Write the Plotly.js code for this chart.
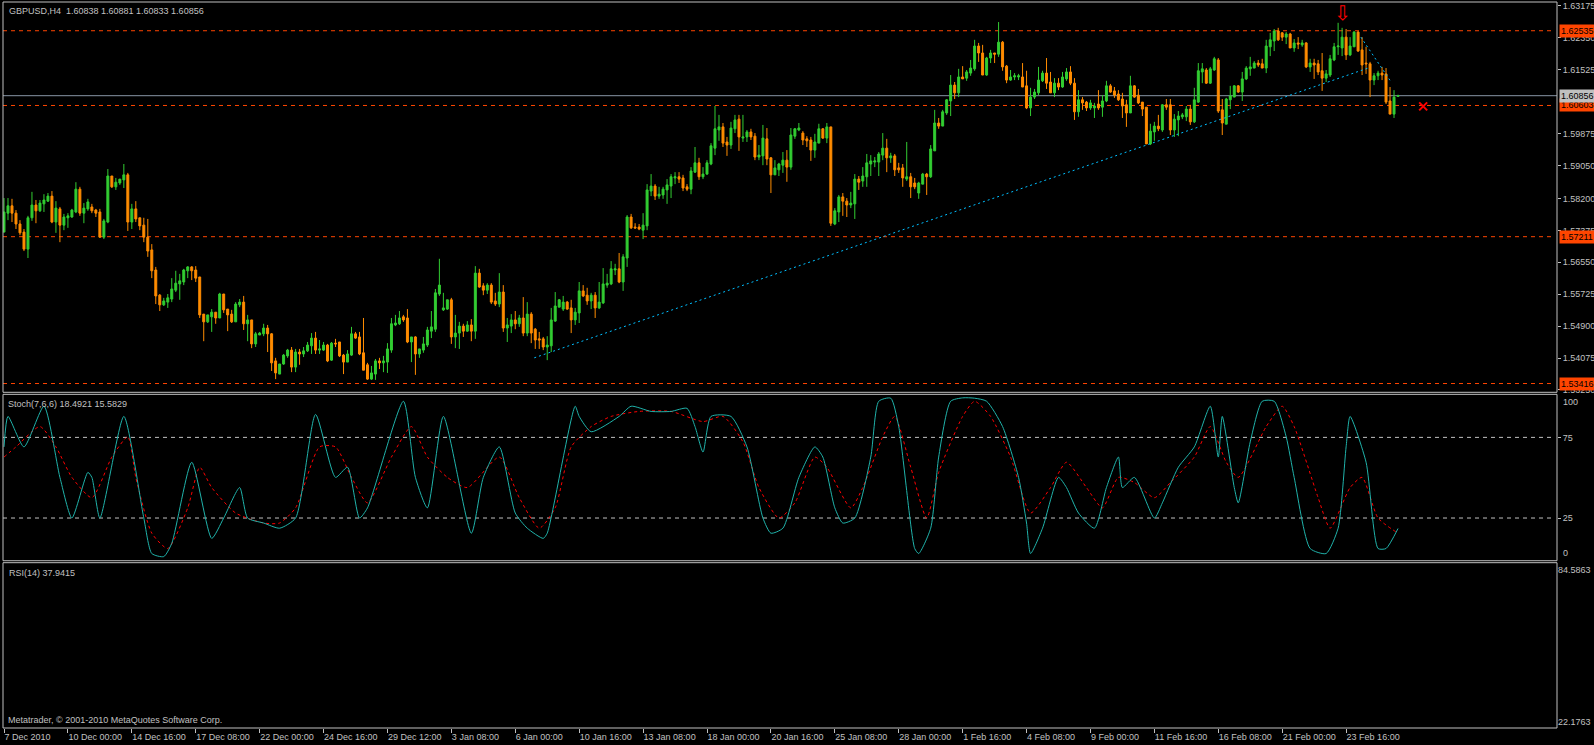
<!DOCTYPE html>
<html><head><meta charset="utf-8">
<script src="https://cdn.plot.ly/plotly-3.0.1.min.js"></script>
<style>html,body{margin:0;padding:0;background:#000;overflow:hidden}#chart{width:1594px;height:745px}</style>
</head><body><div id="chart"></div>
<script>
// ---------- DATA ----------
const symbolTitle = "GBPUSD,H4  1.60838 1.60881 1.60833 1.60856";
const stochTitle = "Stoch(7,6,6) 18.4921 15.5829";
const rsiTitle = "RSI(14) 37.9415";
const copyright = "Metatrader, \u00A9 2001-2010 MetaQuotes Software Corp.";

const xTickBars = [0,16,32,48,64,80,96,112,128,144,160,176,192,208,224,240,256,272,288,304,320,336];
const xTickLabels = ["7 Dec 2010","10 Dec 00:00","14 Dec 16:00","17 Dec 08:00","22 Dec 00:00","24 Dec 16:00","29 Dec 12:00","3 Jan 08:00","6 Jan 00:00","10 Jan 16:00","13 Jan 08:00","18 Jan 00:00","20 Jan 16:00","25 Jan 08:00","28 Jan 00:00","1 Feb 16:00","4 Feb 08:00","9 Feb 00:00","11 Feb 16:00","16 Feb 08:00","21 Feb 00:00","23 Feb 16:00"];
// visible price scale labels (1.60700 is hidden behind the price tags in the original)
const priceTicks = [1.63175,1.62350,1.61525,1.59875,1.59050,1.58200,1.57375,1.56550,1.55725,1.54900,1.54075,1.53250];

const open = [
1.5733,1.5782,1.5801,1.5782,1.5754,1.5733,1.5689,1.5770,1.5803,1.5788,
1.5806,1.5813,1.5826,1.5759,1.5793,1.5751,1.5770,1.5772,1.5785,1.5844,
1.5782,1.5793,1.5798,1.5790,1.5785,1.5720,1.5759,1.5878,1.5850,1.5860,
1.5868,1.5881,1.5759,1.5793,1.5770,1.5751,1.5720,1.5687,1.5635,1.5570,
1.5545,1.5552,1.5560,1.5583,1.5599,1.5604,1.5633,1.5643,1.5635,1.5617,
1.5521,1.5501,1.5514,1.5526,1.5511,1.5573,1.5534,1.5521,1.5501,1.5545,
1.5552,1.5496,1.5506,1.5444,1.5467,1.5470,1.5485,1.5470,1.5400,1.5366,
1.5392,1.5413,1.5428,1.5384,1.5423,1.5418,1.5426,1.5439,1.5459,1.5428,
1.5428,1.5441,1.5402,1.5446,1.5449,1.5415,1.5397,1.5415,1.5470,1.5462,
1.5421,1.5390,1.5353,1.5366,1.5400,1.5395,1.5397,1.5428,1.5493,1.5496,
1.5514,1.5511,1.5449,1.5462,1.5418,1.5428,1.5441,1.5477,1.5482,1.5573,
1.5532,1.5534,1.5558,1.5462,1.5472,1.5490,1.5477,1.5493,1.5477,1.5627,
1.5594,1.5583,1.5596,1.5555,1.5547,1.5578,1.5485,1.5490,1.5506,1.5496,
1.5511,1.5472,1.5521,1.5482,1.5457,1.5457,1.5436,1.5439,1.5503,1.5539,
1.5534,1.5552,1.5537,1.5506,1.5524,1.5581,1.5570,1.5555,1.5570,1.5537,
1.5550,1.5596,1.5599,1.5635,1.5638,1.5604,1.5666,1.5772,1.5746,1.5746,
1.5738,1.5749,1.5839,1.5852,1.5826,1.5829,1.5842,1.5852,1.5873,1.5876,
1.5873,1.5850,1.5844,1.5888,1.5912,1.5876,1.5883,1.5909,1.5950,1.5997,
1.6005,1.5966,1.5958,1.6000,1.6025,1.5976,1.5979,1.5992,1.5981,1.5927,
1.5930,1.5974,1.5925,1.5881,1.5894,1.5906,1.5919,1.5901,1.5981,1.5997,
1.5989,1.5974,1.5971,1.5945,1.5963,1.6000,1.5976,1.6005,1.5754,1.5785,
1.5824,1.5813,1.5803,1.5806,1.5870,1.5865,1.5876,1.5909,1.5914,1.5914,
1.5932,1.5950,1.5925,1.5930,1.5899,1.5899,1.5870,1.5876,1.5860,1.5834,
1.5857,1.5883,1.5876,1.5943,1.6015,1.6007,1.6041,1.6072,1.6113,1.6093,
1.6134,1.6131,1.6144,1.6155,1.6214,1.6196,1.6139,1.6183,1.6196,1.6193,
1.6224,1.6162,1.6126,1.6134,1.6134,1.6134,1.6111,1.6054,1.6082,1.6093,
1.6124,1.6144,1.6121,1.6093,1.6118,1.6108,1.6129,1.6147,1.6118,1.6044,
1.6075,1.6069,1.6054,1.6054,1.6064,1.6056,1.6072,1.6111,1.6098,1.6090,
1.6077,1.6062,1.6041,1.6111,1.6087,1.6069,1.6056,1.5961,1.5992,1.6007,
1.5997,1.6062,1.6062,1.5997,1.6023,1.6031,1.6031,1.6051,1.6018,1.6069,
1.6147,1.6152,1.6118,1.6152,1.6178,1.6049,1.6012,1.6075,1.6082,1.6111,
1.6095,1.6129,1.6155,1.6157,1.6170,1.6168,1.6157,1.6212,1.6227,1.6253,
1.6248,1.6237,1.6245,1.6209,1.6222,1.6217,1.6222,1.6160,1.6170,1.6168,
1.6150,1.6131,1.6139,1.6178,1.6212,1.6209,1.6237,1.6191,1.6212,1.6250,
1.6204,1.6170,1.6168,1.6126,1.6137,1.6144,1.6142,1.6072,1.6038,1.60838];

const high = [
1.5821,1.5821,1.5819,1.5790,1.5764,1.5741,1.5775,1.5837,1.5816,1.5816,
1.5831,1.5834,1.5839,1.5813,1.5798,1.5780,1.5782,1.5793,1.5862,1.5850,
1.5808,1.5819,1.5806,1.5793,1.5793,1.5767,1.5896,1.5878,1.5873,1.5870,
1.5909,1.5886,1.5806,1.5813,1.5770,1.5770,1.5767,1.5702,1.5643,1.5573,
1.5563,1.5573,1.5614,1.5633,1.5625,1.5638,1.5645,1.5645,1.5645,1.5617,
1.5521,1.5519,1.5534,1.5526,1.5576,1.5573,1.5534,1.5532,1.5552,1.5560,
1.5568,1.5519,1.5506,1.5475,1.5475,1.5496,1.5493,1.5472,1.5408,1.5392,
1.5418,1.5431,1.5436,1.5431,1.5431,1.5436,1.5449,1.5472,1.5475,1.5454,
1.5449,1.5444,1.5449,1.5457,1.5449,1.5418,1.5428,1.5488,1.5475,1.5475,
1.5511,1.5395,1.5387,1.5405,1.5408,1.5413,1.5446,1.5511,1.5519,1.5529,
1.5519,1.5534,1.5462,1.5464,1.5431,1.5462,1.5488,1.5529,1.5586,1.5664,
1.5576,1.5558,1.5563,1.5519,1.5501,1.5496,1.5503,1.5508,1.5645,1.5638,
1.5601,1.5601,1.5601,1.5576,1.5627,1.5596,1.5511,1.5521,1.5529,1.5519,
1.5565,1.5552,1.5526,1.5485,1.5475,1.5462,1.5464,1.5537,1.5578,1.5560,
1.5568,1.5555,1.5558,1.5537,1.5604,1.5596,1.5589,1.5576,1.5578,1.5604,
1.5640,1.5625,1.5658,1.5651,1.5679,1.5676,1.5777,1.5780,1.5756,1.5754,
1.5782,1.5857,1.5883,1.5857,1.5850,1.5850,1.5870,1.5883,1.5888,1.5888,
1.5881,1.5857,1.5901,1.5953,1.5925,1.5901,1.5919,1.5963,1.6059,1.6036,
1.6015,1.5979,1.6018,1.6036,1.6036,1.6036,1.5997,1.6000,1.5989,1.5958,
1.6010,1.6002,1.5927,1.5919,1.5912,1.5940,1.5945,1.6002,1.6002,1.6015,
1.5994,1.5981,1.5979,1.5987,1.6013,1.6002,1.6015,1.6005,1.5795,1.5829,
1.5834,1.5821,1.5837,1.5883,1.5878,1.5901,1.5935,1.5932,1.5927,1.5940,
1.5989,1.5974,1.5938,1.5935,1.5912,1.5909,1.5966,1.5886,1.5873,1.5863,
1.5886,1.5886,1.5958,1.6049,1.6028,1.6049,1.6077,1.6139,1.6121,1.6155,
1.6162,1.6152,1.6178,1.6230,1.6222,1.6217,1.6186,1.6204,1.6196,1.6276,
1.6227,1.6165,1.6152,1.6144,1.6142,1.6170,1.6150,1.6106,1.6103,1.6160,
1.6150,1.6183,1.6147,1.6131,1.6131,1.6147,1.6157,1.6162,1.6131,1.6100,
1.6082,1.6072,1.6075,1.6067,1.6100,1.6087,1.6124,1.6116,1.6108,1.6100,
1.6093,1.6075,1.6137,1.6113,1.6103,1.6069,1.6056,1.6013,1.6018,1.6036,
1.6064,1.6077,1.6077,1.6038,1.6046,1.6041,1.6059,1.6062,1.6106,1.6170,
1.6170,1.6157,1.6160,1.6186,1.6183,1.6077,1.6080,1.6111,1.6113,1.6113,
1.6147,1.6162,1.6186,1.6175,1.6178,1.6181,1.6230,1.6248,1.6258,1.6261,
1.6250,1.6250,1.6248,1.6232,1.6237,1.6230,1.6224,1.6181,1.6181,1.6178,
1.6196,1.6152,1.6191,1.6222,1.6274,1.6261,1.6258,1.6237,1.6253,1.6253,
1.6237,1.6212,1.6173,1.6144,1.6150,1.6160,1.6157,1.6108,1.6100,1.60881];

const low = [
1.5733,1.5764,1.5759,1.5741,1.5725,1.5684,1.5666,1.5762,1.5756,1.5785,
1.5785,1.5811,1.5756,1.5731,1.5707,1.5738,1.5744,1.5770,1.5782,1.5775,
1.5756,1.5788,1.5782,1.5772,1.5718,1.5715,1.5756,1.5847,1.5842,1.5855,
1.5847,1.5736,1.5741,1.5759,1.5738,1.5707,1.5669,1.5614,1.5547,1.5529,
1.5542,1.5537,1.5552,1.5578,1.5558,1.5596,1.5614,1.5609,1.5604,1.5511,
1.5451,1.5498,1.5475,1.5496,1.5511,1.5524,1.5477,1.5498,1.5501,1.5539,
1.5480,1.5451,1.5433,1.5436,1.5467,1.5464,1.5423,1.5374,1.5353,1.5366,
1.5390,1.5408,1.5371,1.5371,1.5390,1.5410,1.5423,1.5418,1.5418,1.5418,
1.5426,1.5397,1.5400,1.5436,1.5410,1.5366,1.5397,1.5413,1.5457,1.5415,
1.5376,1.5351,1.5351,1.5351,1.5379,1.5371,1.5369,1.5421,1.5490,1.5493,
1.5501,1.5446,1.5397,1.5364,1.5408,1.5421,1.5436,1.5459,1.5475,1.5568,
1.5529,1.5532,1.5444,1.5433,1.5431,1.5462,1.5475,1.5451,1.5457,1.5589,
1.5570,1.5573,1.5547,1.5542,1.5539,1.5475,1.5449,1.5472,1.5482,1.5488,
1.5464,1.5464,1.5446,1.5431,1.5431,1.5428,1.5402,1.5423,1.5501,1.5539,
1.5529,1.5532,1.5472,1.5493,1.5498,1.5565,1.5545,1.5534,1.5511,1.5534,
1.5547,1.5589,1.5596,1.5622,1.5601,1.5581,1.5643,1.5741,1.5741,1.5738,
1.5715,1.5738,1.5826,1.5816,1.5819,1.5819,1.5806,1.5821,1.5857,1.5860,
1.5839,1.5839,1.5831,1.5886,1.5868,1.5870,1.5881,1.5906,1.5932,1.5969,
1.5953,1.5930,1.5948,1.5989,1.5943,1.5966,1.5966,1.5971,1.5919,1.5919,
1.5906,1.5906,1.5834,1.5881,1.5878,1.5886,1.5863,1.5894,1.5974,1.5994,
1.5958,1.5953,1.5917,1.5925,1.5963,1.5974,1.5963,1.5749,1.5751,1.5759,
1.5775,1.5772,1.5795,1.5767,1.5842,1.5850,1.5850,1.5878,1.5901,1.5878,
1.5919,1.5888,1.5912,1.5878,1.5886,1.5850,1.5865,1.5821,1.5844,1.5819,
1.5857,1.5829,1.5873,1.5943,1.6000,1.6007,1.6036,1.6033,1.6077,1.6082,
1.6129,1.6124,1.6137,1.6150,1.6173,1.6139,1.6137,1.6170,1.6170,1.6186,
1.6150,1.6118,1.6124,1.6126,1.6126,1.6108,1.6051,1.6033,1.6077,1.6087,
1.6121,1.6103,1.6093,1.6082,1.6100,1.6106,1.6124,1.6113,1.6023,1.6031,
1.6049,1.6046,1.6049,1.6028,1.6049,1.6031,1.6069,1.6093,1.6080,1.6072,
1.6028,1.6005,1.6041,1.6080,1.6064,1.6033,1.5961,1.5958,1.5969,1.5994,
1.5992,1.6049,1.5984,1.5979,1.5981,1.6025,1.6020,1.6010,1.6015,1.6067,
1.6118,1.6116,1.6116,1.6150,1.6041,1.5984,1.6012,1.6051,1.6082,1.6093,
1.6072,1.6126,1.6137,1.6157,1.6160,1.6157,1.6144,1.6188,1.6201,1.6227,
1.6227,1.6219,1.6209,1.6199,1.6206,1.6212,1.6157,1.6147,1.6129,1.6139,
1.6098,1.6121,1.6134,1.6175,1.6191,1.6188,1.6178,1.6188,1.6212,1.6199,
1.6139,1.6142,1.6082,1.6113,1.6126,1.6126,1.6064,1.6038,1.6028,1.60833];

const close = [
1.5785,1.5801,1.5782,1.5754,1.5731,1.5689,1.5770,1.5803,1.5788,1.5808,
1.5816,1.5826,1.5759,1.5795,1.5751,1.5772,1.5775,1.5790,1.5844,1.5782,
1.5795,1.5811,1.5788,1.5782,1.5720,1.5762,1.5878,1.5850,1.5862,1.5870,
1.5881,1.5759,1.5793,1.5767,1.5749,1.5720,1.5684,1.5633,1.5568,1.5545,
1.5555,1.5563,1.5586,1.5601,1.5607,1.5635,1.5643,1.5633,1.5614,1.5519,
1.5501,1.5519,1.5526,1.5511,1.5573,1.5532,1.5519,1.5501,1.5547,1.5552,
1.5496,1.5506,1.5444,1.5470,1.5472,1.5485,1.5470,1.5395,1.5369,1.5392,
1.5415,1.5428,1.5384,1.5423,1.5418,1.5426,1.5441,1.5459,1.5428,1.5431,
1.5441,1.5400,1.5446,1.5444,1.5413,1.5397,1.5418,1.5470,1.5459,1.5418,
1.5376,1.5353,1.5369,1.5400,1.5395,1.5400,1.5431,1.5496,1.5498,1.5511,
1.5506,1.5449,1.5462,1.5418,1.5431,1.5444,1.5480,1.5488,1.5576,1.5596,
1.5537,1.5558,1.5462,1.5472,1.5490,1.5477,1.5493,1.5477,1.5627,1.5591,
1.5583,1.5596,1.5552,1.5547,1.5578,1.5485,1.5493,1.5506,1.5496,1.5511,
1.5472,1.5521,1.5472,1.5454,1.5454,1.5436,1.5441,1.5506,1.5542,1.5558,
1.5552,1.5534,1.5506,1.5526,1.5581,1.5568,1.5555,1.5570,1.5537,1.5552,
1.5599,1.5601,1.5638,1.5638,1.5604,1.5669,1.5772,1.5744,1.5744,1.5741,
1.5751,1.5842,1.5852,1.5826,1.5831,1.5844,1.5855,1.5876,1.5876,1.5870,
1.5847,1.5844,1.5891,1.5912,1.5876,1.5883,1.5912,1.5956,1.6000,1.6005,
1.5963,1.5958,1.6002,1.6023,1.5979,1.5979,1.5992,1.5979,1.5927,1.5932,
1.5976,1.5922,1.5881,1.5899,1.5909,1.5919,1.5901,1.5984,1.6000,1.6002,
1.5971,1.5969,1.5945,1.5966,1.6000,1.5976,1.6005,1.5756,1.5788,1.5824,
1.5813,1.5803,1.5808,1.5870,1.5862,1.5878,1.5912,1.5917,1.5917,1.5935,
1.5950,1.5925,1.5930,1.5894,1.5894,1.5873,1.5876,1.5850,1.5850,1.5860,
1.5883,1.5876,1.5948,1.6015,1.6007,1.6044,1.6075,1.6113,1.6093,1.6134,
1.6129,1.6147,1.6157,1.6214,1.6196,1.6139,1.6183,1.6196,1.6193,1.6224,
1.6160,1.6126,1.6134,1.6137,1.6137,1.6108,1.6054,1.6082,1.6095,1.6126,
1.6144,1.6118,1.6093,1.6118,1.6108,1.6134,1.6147,1.6118,1.6044,1.6075,
1.6067,1.6054,1.6067,1.6059,1.6054,1.6072,1.6111,1.6095,1.6087,1.6075,
1.6059,1.6041,1.6111,1.6082,1.6067,1.6051,1.5961,1.5994,1.6007,1.6000,
1.6062,1.6056,1.5997,1.6025,1.6033,1.6036,1.6051,1.6018,1.6075,1.6150,
1.6155,1.6118,1.6155,1.6181,1.6046,1.6015,1.6077,1.6085,1.6111,1.6095,
1.6129,1.6157,1.6160,1.6170,1.6165,1.6157,1.6214,1.6230,1.6253,1.6230,
1.6237,1.6245,1.6209,1.6222,1.6219,1.6222,1.6160,1.6170,1.6165,1.6147,
1.6131,1.6142,1.6181,1.6212,1.6214,1.6237,1.6191,1.6214,1.6250,1.6201,
1.6165,1.6168,1.6126,1.6137,1.6144,1.6139,1.6069,1.6038,1.6082,1.60856];

// Stochastic (7,6,6): main (%K) and signal (%D), read at bar positions
const stochMainBar = [0,1,5,10,14,17,21,22,24,30,35,37,40,42,47,52,55,59,61,65,69,73,78,83,86,89,91,100,103,106,110,117,120,124,128,131,135,136,143,144,147,154,157,162,167,171,173,175,177,182,186,190,192,195,199,203,205,208,210,213,217,219,222,224,228,229,232,234,237,240,243,246,250,254,256,257,260,264,266,269,273,276,279,280,283,288,290,294,298,302,304,305,308,309,312,315,318,321,323,327,331,334,336,337,341,344,346,349];
const stochMainVal = [69.1,88.0,69.1,94.3,50.2,25.0,53.3,50.2,25.0,88.0,25.0,3.0,1.1,9.3,59.6,12.4,25.0,43.9,25.0,21.9,18.7,25.0,89.2,50.2,56.5,25.0,31.3,97.4,50.2,31.3,88.0,15.6,50.2,69.1,28.1,18.7,12.4,15.6,94.3,88.0,78.5,88.0,94.3,91.1,91.1,93.0,81.7,65.9,88.0,88.0,69.1,25.0,15.6,18.7,50.2,69.1,62.8,31.3,21.9,25.0,62.8,97.4,99.3,81.7,6.1,3.0,18.7,62.8,97.4,99.5,99.3,97.4,81.7,50.2,21.9,3.0,18.7,50.2,43.9,28.1,18.7,43.9,62.8,43.9,50.2,25.0,34.4,56.5,69.1,94.3,62.8,88.0,43.9,34.4,72.2,97.4,97.4,75.4,50.2,6.1,3.0,18.7,69.1,88.0,59.6,6.1,6.1,18.4921];
const stochSigBar = [0,3,9,13,17,22,27,31,33,37,41,46,49,52,58,65,69,73,79,83,87,91,97,102,106,111,116,124,129,134,138,142,147,152,159,167,175,180,185,189,194,198,203,206,212,215,220,223,227,231,234,240,243,247,252,257,262,266,271,275,279,283,288,292,298,302,306,309,316,320,323,329,332,337,340,344,349];
const stochSigVal = [62.8,69.1,81.7,69.1,50.2,37.6,62.8,75.4,50.2,15.6,6.1,31.3,56.5,43.9,28.1,21.9,21.9,31.3,69.1,69.1,50.2,34.4,62.8,81.7,62.8,50.2,43.9,62.8,37.6,18.7,31.3,69.1,81.7,88.0,91.1,91.1,84.8,88.0,72.2,43.9,25.0,34.4,62.8,56.5,31.3,43.9,75.4,88.0,56.5,25.0,53.3,88.0,97.4,88.0,62.8,28.1,43.9,59.6,43.9,31.3,50.2,47.0,37.6,47.0,62.8,81.7,59.6,50.2,81.7,94.3,81.7,37.6,18.7,43.9,50.2,25.0,15.5829];
const stochLevels = [75, 25];

// Chart objects
const dashedLevels = [1.62535, 1.60603, 1.57211, 1.53416];
const dashedLabels = ["1.62535", "1.60603", "1.57211", "1.53416"];
const bidPrice = 1.60856;
const trendBars = [132.75, 341.5];
const trendPrices = [1.5408, 1.6157];
const trend2Bars = [339.7, 347.2];
const trend2Prices = [1.6237, 1.6122];
const arrowBar = 335, arrowPrice = 1.6300;
const stopBar = 355.3, stopPrice = 1.6058;
const rsiTicks = [84.5863, 22.1763];

// ---------- CHART ----------
const barIdx = open.map((_, i) => i);
const FONT = 'Liberation Sans, Arial, sans-serif';
const GREY = '#c0c0c0';

const traces = [
  {type:'candlestick', x:barIdx, open:open, high:high, low:low, close:close, xaxis:'x', yaxis:'y',
   increasing:{line:{color:'#32CD32', width:1}, fillcolor:'#32CD32'},
   decreasing:{line:{color:'#FF8C00', width:1}, fillcolor:'#FF8C00'},
   whiskerwidth:0, hoverinfo:'none', showlegend:false},
  {type:'scatter', mode:'lines', x:trendBars, y:trendPrices, xaxis:'x', yaxis:'y',
   line:{color:'#00BFFF', width:1, dash:'2px,3px'}, hoverinfo:'none', showlegend:false},
  {type:'scatter', mode:'lines', x:trend2Bars, y:trend2Prices, xaxis:'x', yaxis:'y',
   line:{color:'#00BFFF', width:1, dash:'2px,3px'}, hoverinfo:'none', showlegend:false},
  {type:'scatter', mode:'markers', x:[stopBar], y:[stopPrice], xaxis:'x', yaxis:'y',
   marker:{symbol:'x-thin', size:8, line:{color:'#FF0000', width:2}}, hoverinfo:'none', showlegend:false},
  {type:'scatter', mode:'lines', x:stochSigBar, y:stochSigVal, xaxis:'x', yaxis:'y2',
   line:{color:'#FF0000', width:1, dash:'dot', shape:'spline', smoothing:0.6}, hoverinfo:'none', showlegend:false},
  {type:'scatter', mode:'lines', x:stochMainBar, y:stochMainVal, xaxis:'x', yaxis:'y2',
   line:{color:'#20B2AA', width:1, shape:'spline', smoothing:0.6}, hoverinfo:'none', showlegend:false},
  // RSI window (its line is not shown in the original); empty trace keeps the panel axis alive
  {type:'scatter', mode:'lines', x:[], y:[], xaxis:'x', yaxis:'y3', hoverinfo:'none', showlegend:false}
];

const shapes = [];
dashedLevels.forEach(v => shapes.push({type:'line', xref:'paper', x0:0, x1:0.998, yref:'y', y0:v, y1:v,
  line:{color:'#FF4500', width:1, dash:'4px,4px'}, layer:'below'}));
shapes.push({type:'line', xref:'paper', x0:0, x1:1, yref:'y', y0:bidPrice, y1:bidPrice,
  line:{color:'#8896A6', width:1}, layer:'below'});
stochLevels.forEach(v => shapes.push({type:'line', xref:'paper', x0:0, x1:0.998, yref:'y2', y0:v, y1:v,
  line:{color:GREY, width:1, dash:'4px,4px'}, layer:'below'}));
// panel borders
[[0.4624,1],[0.2304,0.4596],[0,0.2277]].forEach(d => shapes.push({type:'rect', xref:'paper', yref:'paper',
  x0:0, x1:1, y0:d[0], y1:d[1], line:{color:GREY, width:1}, fillcolor:'rgba(0,0,0,0)'}));

const annotations = [];
const txt = (t, x, y) => ({text:t, xref:'paper', yref:'paper', x:x, y:y, xanchor:'left', yanchor:'middle',
  showarrow:false, font:{family:FONT, size:9, color:GREY}});
annotations.push(txt(symbolTitle, 0.0026, 0.9876));
annotations.push(txt(stochTitle, 0.0019, 0.4463));
annotations.push(txt(rsiTitle, 0.0026, 0.2135));
annotations.push(txt(copyright, 0.0019, 0.0110));
annotations.push({text:'100', xref:'paper', yref:'paper', x:1, y:0.4494, xanchor:'left', yanchor:'middle', xshift:4, showarrow:false, font:{family:FONT, size:9, color:GREY}});
annotations.push({text:'0', xref:'paper', yref:'paper', x:1, y:0.2406, xanchor:'left', yanchor:'middle', xshift:4, showarrow:false, font:{family:FONT, size:9, color:GREY}});
dashedLevels.forEach((v, i) => annotations.push({text:dashedLabels[i], xref:'paper', yref:'y', x:1, y:v,
  xanchor:'left', yanchor:'middle', xshift:2, showarrow:false, bgcolor:'#FF4500', borderpad:1,
  font:{family:FONT, size:9, color:'#000'}}));
annotations.push({text:bidPrice.toFixed(5), xref:'paper', yref:'y', x:1, y:bidPrice, xanchor:'left', yanchor:'middle',
  xshift:2, showarrow:false, bgcolor:GREY, borderpad:1, font:{family:FONT, size:9, color:'#000'}});
annotations.push({text:'\u21E9', xref:'x', yref:'y', x:arrowBar, y:arrowPrice, xanchor:'center', yanchor:'middle',
  showarrow:false, font:{family:'DejaVu Sans', size:20, color:'#FF0000'}});

const axisFont = {family:FONT, size:9, color:GREY};
const layout = {
  width:1594, height:745, margin:{l:3, r:37, t:2, b:17},
  paper_bgcolor:'#000', plot_bgcolor:'#000', showlegend:false,
  font:{family:FONT, size:9, color:GREY},
  xaxis:{range:[-0.25, 388.8], anchor:'free', position:0, side:'bottom', rangeslider:{visible:false}, tickmode:'array',
    tickvals:xTickBars, ticktext:xTickLabels, ticks:'outside', ticklen:4, tickwidth:1, tickcolor:GREY,
    ticklabelposition:'outside right', showgrid:false, zeroline:false, showline:false, tickfont:axisFont, fixedrange:true},
  yaxis:{domain:[0.4624, 1], range:[1.53189, 1.63278], side:'right', anchor:'x', tickmode:'array',
    tickvals:priceTicks, ticktext:priceTicks.map(v => v.toFixed(5)), ticks:'outside', ticklen:3, tickcolor:GREY,
    showgrid:false, zeroline:false, showline:false, tickfont:axisFont},
  yaxis2:{domain:[0.2304, 0.4596], range:[-1.47, 101.69], side:'right', anchor:'x', tickmode:'array',
    tickvals:stochLevels, ticktext:stochLevels.map(String), ticks:'outside', ticklen:3, tickcolor:GREY,
    showgrid:false, zeroline:false, showline:false, tickfont:axisFont},
  yaxis3:{domain:[0, 0.2277], range:[19.58, 87.59], side:'right', anchor:'x', tickmode:'array',
    tickvals:rsiTicks, ticktext:rsiTicks.map(v => v.toFixed(4)), ticks:'', showgrid:false, zeroline:false,
    showline:false, tickfont:axisFont},
  shapes:shapes, annotations:annotations
};

Plotly.newPlot('chart', traces, layout, {staticPlot:true, displayModeBar:false});
</script>
</body></html>
